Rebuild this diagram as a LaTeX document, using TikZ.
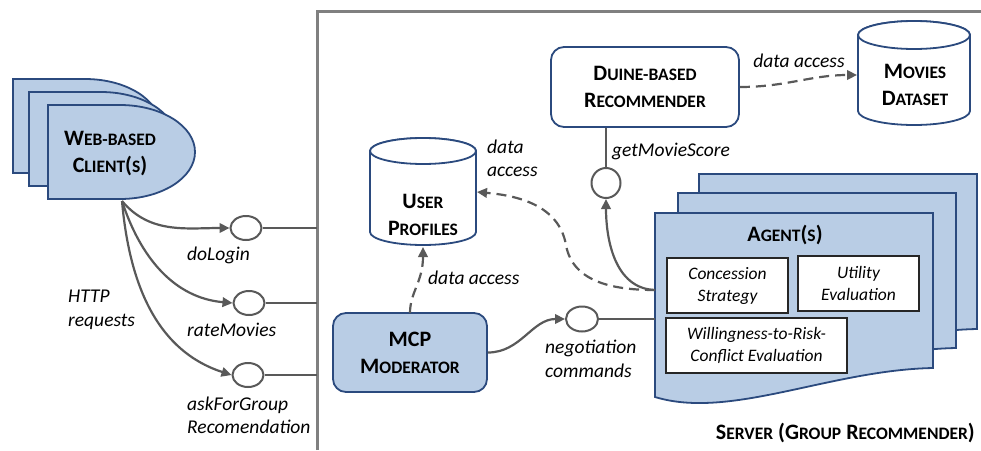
\documentclass[tikz,border=0pt]{standalone}
\usepackage{fontspec}
\setmainfont{Carlito}
\usetikzlibrary{arrows.meta,shapes.geometric}
\definecolor{boxblue}{HTML}{B9CDE5}
\definecolor{navy}{HTML}{2B4A7E}
\definecolor{cgray}{HTML}{595959}
\definecolor{framegray}{HTML}{808080}
\newcommand\capL[1]{{\fontsize{22}{27}\selectfont #1}}
\newcommand\capS[1]{{\fontsize{17.5}{27}\selectfont #1}}
\begin{document}
\begin{tikzpicture}[x=1pt,y=1pt,
  cline/.style={draw=cgray, line width=2.2pt},
  tip/.style={-{Triangle[length=10pt,width=9.5pt]}},
  dline/.style={cline, dash pattern=on 10pt off 6pt},
  iface/.style={ellipse, draw=cgray, line width=2pt, fill=white, inner sep=0pt},
  lab/.style={font=\fontsize{19.5}{23.5}\selectfont\itshape, inner sep=0pt, align=left},
  title/.style={font=\bfseries\fontsize{22}{27}\selectfont, align=center, inner sep=0pt},
  inbox/.style={draw=black!85, line width=1.5pt, fill=white, inner sep=0pt, minimum height=55pt, font=\fontsize{17.5}{22}\selectfont\itshape, align=center},
  blueshape/.style={fill=boxblue, draw=navy, line width=1.8pt},
  cyl/.style={fill=white, draw=navy, line width=1.8pt},
]
\useasboundingbox (0,0) rectangle (981,-450);

% server frame
\coordinate (sv) at (317,-11);
\draw[draw=framegray, line width=3pt] (317,-450) -- (sv) -- (981,-11);

% web-based clients
\foreach \dx/\dy in {-35/26, -19/13, 0/0} {
  \draw[blueshape, shift={(\dx,\dy)}] (48,-105) -- (120,-105)
    arc[start angle=90, end angle=-90, x radius=75, y radius=47] -- (48,-199) -- cycle;
}
\node[title] (client) at (110,-154) {\capL{W}\capS{EB-BASED}\\\capL{C}\capS{LIENT}\capL{(}\capS{S}\capL{)}};
\coordinate (cb) at (122,-201);

% interfaces on the left
\node[iface, minimum width=31pt, minimum height=24pt] (c1) at (246,-228) {};
\node[iface, minimum width=31pt, minimum height=24pt] (c2) at (249,-303) {};
\node[iface, minimum width=31pt, minimum height=24pt] (c3) at (248,-375) {};
\foreach \c in {c1,c2,c3} \draw[cline] (\c.east) -- (\c.east -| sv);
\draw[cline,tip] (cb) to[out=-50,in=180] (c1.west);
\draw[cline,tip] (cb) to[out=-72,in=175] (c2.west);
\draw[cline,tip] (cb) to[out=-85,in=162] (c3.west);

\node[lab,anchor=west] (lhttp) at (68,-310) {HTTP\\requests};
\node[lab,anchor=west] (ldo) at (187,-255) {doLogin};
\node[lab,anchor=west] (lrate) at (187,-330) {rateMovies};
\node[lab,anchor=west] (lask) at (187,-415.5) {askForGroup\\Recomendation};

% user profiles
\draw[cyl] (370,-151) -- (370,-232) arc[start angle=180, end angle=360, x radius=53, y radius=13]
  -- (476,-151) arc[start angle=0, end angle=180, x radius=53, y radius=13] -- cycle;
\draw[cyl] (423,-151) ellipse[x radius=53, y radius=13];
\node[title] (up) at (423,-215) {\capL{U}\capS{SER}\\\capL{P}\capS{ROFILES}};
\coordinate (upS) at (423,-247);
\coordinate (upE) at (477,-192);

% movies dataset
\draw[cyl] (858,-35) -- (858,-111) arc[start angle=180, end angle=360, x radius=56, y radius=14]
  -- (970,-35) arc[start angle=0, end angle=180, x radius=56, y radius=14] -- cycle;
\draw[cyl] (914,-35) ellipse[x radius=56, y radius=14];
\node[title] (mv) at (915,-85) {\capL{M}\capS{OVIES}\\\capL{D}\capS{ATASET}};
\coordinate (mvW) at (857,-75);

% duine recommender
\node[title, draw=navy, line width=1.8pt, fill=white, rounded corners=13pt, minimum width=188pt, minimum height=80pt] (du) at (645,-87) {\capL{D}\capS{UINE-BASED}\\\capL{R}\capS{ECOMMENDER}};
\draw[dline,tip] (du.east) to[out=0,in=180] (mvW);
\node[lab] (lda1) at (799,-61) {data access};

\node[iface, minimum width=29pt, minimum height=30pt] (gm) at (606,-183) {};
\draw[cline] (gm.north) -- (gm.north |- du.south);
\node[lab, anchor=west] (lgm) at (612,-151) {getMovieScore};

% agents
\foreach \dx/\dy in {44/39, 23/20, 0/0} {
  \draw[blueshape, shift={(\dx,\dy)}] (655,-213) -- (933,-213) -- (933,-368)
    .. controls (830,-370) and (730,-420) .. (655,-397) -- cycle;
}
\node[title] (ag) at (785,-235) {\capL{A}\capS{GENT}\capL{(}\capS{S}\capL{)}};
\node[inbox, minimum width=121pt] (cs) at (727.5,-285.5) {Concession\\Strategy};
\node[inbox, minimum width=121pt] (ue) at (858.5,-283.5) {Utility\\Evaluation};
\node[inbox, minimum width=181pt] (wr) at (756.5,-345.5) {Willingness-to-Risk-\\Conflict Evaluation};
\coordinate (agA) at (655,-290);
\coordinate (agN) at (655,-319);
\coordinate (dm) at (566,-245);

\draw[cline,tip] (agA) to[out=178,in=-90] (gm.south);
\draw[dline,tip] (agA) to[out=180,in=-80] (dm) to[out=100,in=-5] (upE);
\node[lab,anchor=west] (lda2) at (487,-158.5) {data\\access};

% moderator
\node[title, blueshape, rounded corners=13pt, minimum width=154pt, minimum height=79pt] (mod) at (410,-352.5) {\capL{MCP}\\\capL{M}\capS{ODERATOR}};
\coordinate (modT) at (410,-313);
\draw[dline,tip] (modT) .. controls (410,-292) and (423,-282) .. (upS);
\node[lab,anchor=west] (lda3) at (428,-278) {data access};

\node[iface, minimum width=32pt, minimum height=25pt] (ng) at (582,-319) {};
\draw[cline] (ng.east) -- (agN);
\draw[cline,tip] (mod.east) to[out=0,in=180] (ng.west);
\node[lab,anchor=west] (lng) at (545,-359) {negotiation\\commands};

\node[title, anchor=east] (srvl) at (975,-433) {\capL{S}\capS{ERVER} \capL{(G}\capS{ROUP} \capL{R}\capS{ECOMMENDER}\capL{)}};
\end{tikzpicture}
\end{document}
